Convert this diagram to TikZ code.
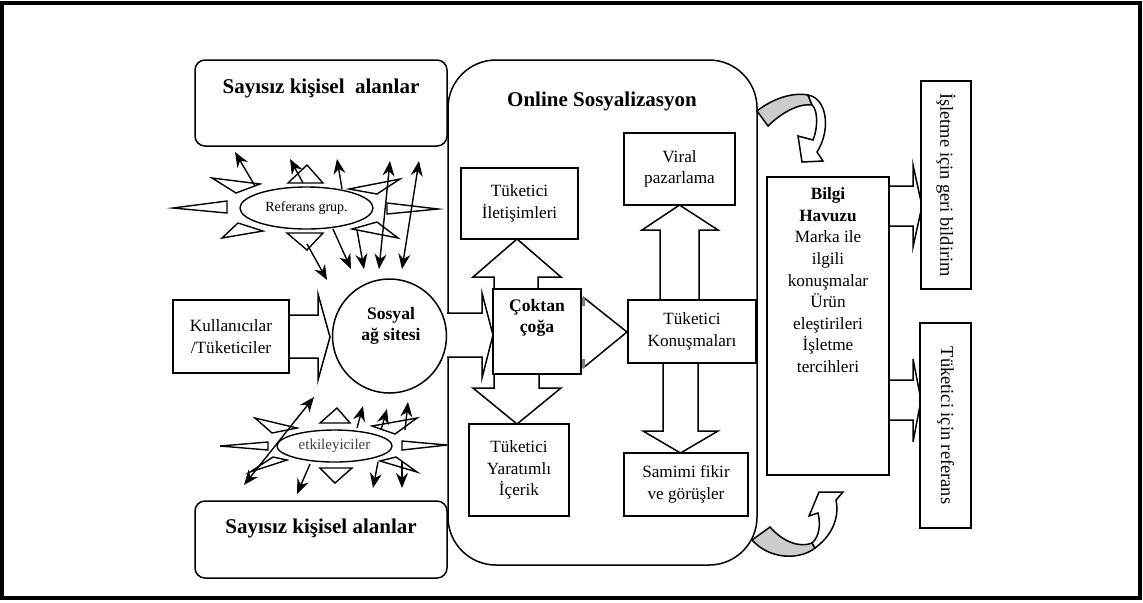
\documentclass[tikz,border=0pt]{standalone}
\usepackage{fontspec}
\setmainfont{Liberation Serif}
\usetikzlibrary{arrows.meta,shapes.geometric}

\tikzset{every picture/.style={line width=0.75pt}}
\tikzset{
  box/.style={draw, fill=white, inner sep=0pt, align=center, font=\fontsize{8.6}{10.8}\selectfont},
  txt/.style={inner sep=0pt, align=center, font=\fontsize{8.6}{10.8}\selectfont},
  bsm/.style={inner sep=0pt, align=center, font=\fontsize{8.8}{10.4}\selectfont\bfseries},
  ttl/.style={inner sep=0pt, align=center, font=\fontsize{10.5}{12}\selectfont\bfseries},
  vbox/.style={box, rotate=-90, font=\fontsize{9.2}{11}\selectfont},
  oval/.style={draw, ellipse, fill=white, inner sep=0pt, line width=0.7pt},
  spike/.style={draw, fill=white, line width=0.7pt},
  blk/.style={draw, fill=white},
  arr/.style={-{Stealth[length=7.5pt,width=6pt]}, line width=0.7pt},
  barr/.style={{Stealth[length=7.5pt,width=6pt]}-{Stealth[length=7.5pt,width=6pt]}, line width=0.7pt},
}

\begin{document}
\begin{tikzpicture}[x=0.5pt,y=0.5pt,yscale=-1,xscale=1]
\useasboundingbox (0,0) rectangle (1143,602);

%Shape: Frame
\draw [line width=2pt] (2,3) rectangle (1140,598);

%Shape: Rounded Rectangle
\draw [rounded corners=5pt] (195,60) rectangle (447,146);
\node [ttl] (alanust) at (321,88) {Sayısız kişisel~ alanlar};
%Shape: Rounded Rectangle
\draw [rounded corners=5pt] (195,501) rectangle (447,578);
\node [ttl] (alanalt) at (321,528) {Sayısız kişisel alanlar};
%Shape: Rounded Rectangle
\draw [rounded corners=24pt] (448,60) rectangle (757,565);
\node [ttl] (online) at (602,101) {Online Sosyalizasyon};

%Shape: Right Arrow
\draw [blk] (289,315) -- (318,315) -- (318,294) -- (330,337) -- (318,380) -- (318,358) -- (289,358) ;
%Shape: Right Arrow
\draw [blk] (447,313) -- (482,313) -- (482,293) -- (493,335) -- (482,378) -- (482,357) -- (447,357) ;
%Shape: Up Arrow
\draw [blk] (494,289) -- (494,277) -- (473,277) -- (517,239) -- (561,277) -- (538,277) -- (538,289) ;
%Shape: Down Arrow
\draw [blk] (494,374) -- (494,388) -- (473,388) -- (517,424) -- (561,388) -- (539,388) -- (539,374) ;
%Shape: Right Arrow
\draw [blk] (583,297) -- (627,332) -- (583,368) ;
\fill [gray] (581,297) rectangle (585,306) (581,359) rectangle (585,368) ;
%Shape: Up Arrow
\draw [blk] (660,300) -- (660,230) -- (642,230) -- (679.5,205) -- (718,230) -- (699,230) -- (699,300) ;
%Shape: Down Arrow
\draw [blk] (663,363) -- (663,431) -- (643,431) -- (680.5,453) -- (718,431) -- (698,431) -- (698,363) ;
%Shape: Right Arrow
\draw [blk] (889,186) -- (913,186) -- (913,165) -- (922,206) -- (913,247) -- (913,226) -- (889,226) ;
%Shape: Right Arrow
\draw [blk] (889,380) -- (913,380) -- (913,359) -- (921,400) -- (913,442) -- (913,420) -- (889,420) ;

% Boxes
\node [box, minimum width=58pt, minimum height=36.5pt] (kullanici) at (231,336.5) {Kullanıcılar\\/Tüketiciler};
\node [draw, circle, fill=white, minimum size=57pt, inner sep=0pt] (sosyal) at (389.5,336) {};
\node [bsm] (sosyaltxt) at (391,326) {Sosyal\\ağ sitesi};
\node [box, minimum width=58.5pt, minimum height=35.5pt] (iletisim) at (519.5,203.5) {Tüketici\\İletişimleri};
\node [box, minimum width=55.5pt, minimum height=36pt] (viral) at (679.5,169) {Viral\\pazarlama};
\node [box, minimum width=44pt, minimum height=42.5pt] (coktan) at (537,331.5) {};
\node [bsm] (coktantxt) at (537,318) {Çoktan\\çoğa};
\node [box, minimum width=50pt, minimum height=46pt] (yaratim) at (519,470) {Tüketici\\Yaratımlı\\İçerik};
\node [box, minimum width=64pt, minimum height=31.5pt] (konus) at (692,331.5) {Tüketici\\Konuşmaları};
\node [box, minimum width=62pt, minimum height=31.5pt] (samimi) at (686,484.5) {Samimi fikir\\ve görüşler};
\node [box, minimum width=61pt, minimum height=149pt] (bilgi) at (828,326) {};
\node [txt, anchor=north] (bilgitxt) at (828,187) {\textbf{Bilgi}\\\textbf{Havuzu}\\Marka ile\\ilgili\\konuşmalar\\Ürün\\eleştirileri\\İşletme\\tercihleri};
\node [vbox, minimum width=104pt, minimum height=25pt] (geri) at (946,185) {İşletme için geri bildirim};
\node [vbox, minimum width=102.5pt, minimum height=25.5pt] (tref) at (945.5,425.5) {Tüketici için referans};

%Shape: Star (Referans grup.)
\draw [spike] (227,201) -- (173,208) -- (227,213) -- cycle ;
\draw [spike] (260,184) -- (212,178) -- (236,193) -- cycle ;
\draw [spike] (288,183) -- (307,165) -- (323,183) -- cycle ;
\draw [spike] (349,189) -- (400,179) -- (377,194) -- cycle ;
\draw [spike] (387,203) -- (438,209) -- (387,214) -- cycle ;
\draw [spike] (352,229) -- (398,238) -- (377,222) -- cycle ;
\draw [spike] (263,231) -- (222,238) -- (238,223) -- cycle ;
\draw [spike] (287,233) -- (307,250) -- (323,233) -- cycle ;
\node [oval, minimum width=66.5pt, minimum height=21pt, font=\fontsize{7}{8}\selectfont] (ref) at (306.5,208) {Referans grup.};
\draw [arr] (255,186) -- (235,152) ;
\draw [arr] (303,183) -- (290,159) ;
\draw [arr] (342,189) -- (337,159) ;
\draw [barr] (379,269) -- (390,161) ;
\draw [barr] (402,269) -- (419,161) ;
\draw [arr] (333,229) -- (351,269) ;
\draw [arr] (357,230) -- (364,269) ;
\draw [arr] (307,244) -- (327,280) ;

%Shape: Star (etkileyiciler)
\draw [spike] (268,442) -- (220,446) -- (268,450) -- cycle ;
\draw [spike] (297,428) -- (255,418) -- (272,433) -- cycle ;
\draw [spike] (320,423) -- (337,408) -- (350,423) -- cycle ;
\draw [spike] (372,426) -- (417,418) -- (395,434) -- cycle ;
\draw [spike] (402,441) -- (447,445) -- (402,450) -- cycle ;
\draw [spike] (380,461) -- (417,472) -- (396,457) -- cycle ;
\draw [spike] (287,460) -- (250,472) -- (273,457) -- cycle ;
\draw [spike] (320,468) -- (335,483) -- (352,468) -- cycle ;
\node [oval, minimum width=57.5pt, minimum height=16pt, font=\fontsize{7.5}{8}\selectfont, text=black!75] (etk) at (334.5,446) {etkileyiciler};
\draw [barr] (244,485) -- (314,397) ;
\draw [arr] (310,464) -- (297,494) ;
\draw [arr] (357,428) -- (363,406) ;
\draw [arr] (381,430) -- (387,409) ;
\draw [arr] (405,430) -- (408,402) ;
\draw [arr] (378,462) -- (373,488) ;
\draw [arr] (402,462) -- (402,488) ;

%Shape: Curved Down Arrow
\draw [fill=gray!40] (757,111) .. controls (772,99) and (792,92) .. (808,95) -- (812,105) .. controls (800,103) and (782,112) .. (768,126) -- cycle ;
\draw [fill=white] (808,95) .. controls (826,98) and (832,128) .. (817,152) -- (823,161) -- (802,162) -- (798,136) -- (813,140) .. controls (818,128) and (818,110) .. (812,105) -- cycle ;
%Shape: Curved Up Arrow
\draw [fill=gray!40] (752,540) .. controls (770,560) and (800,560) .. (815,548) -- (812,543) .. controls (800,548) and (783,542) .. (770,527) -- cycle ;
\draw [fill=white] (815,548) .. controls (830,537) and (840,520) .. (836,500) -- (843,492) -- (819,492) -- (809,516) -- (818,513) .. controls (821,525) and (819,537) .. (812,543) -- cycle ;

\end{tikzpicture}
\end{document}
